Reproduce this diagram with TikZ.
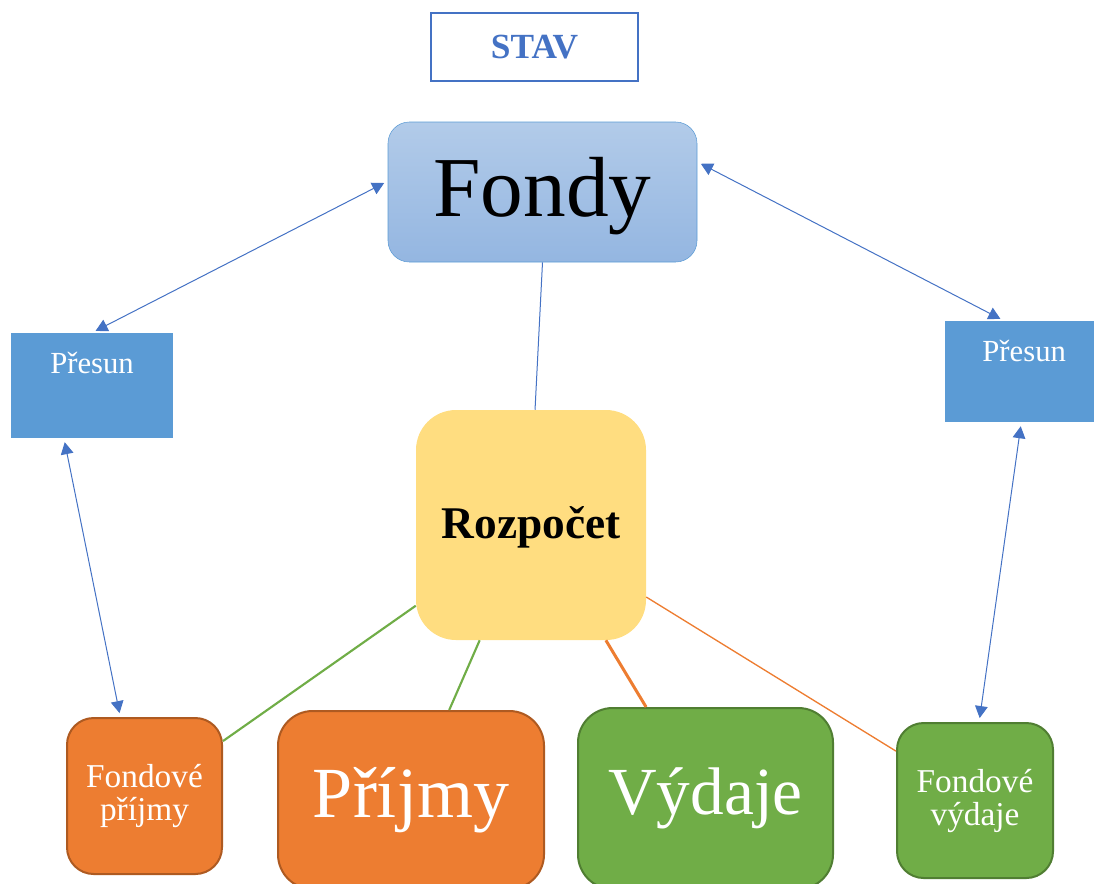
\documentclass[tikz,border=0pt]{standalone}
\usepackage{fontspec}
\setmainfont{Liberation Serif}
\usetikzlibrary{arrows.meta}
\definecolor{stavblue}{HTML}{4472C4}
\definecolor{presunblue}{HTML}{5B9BD5}
\definecolor{fondtop}{HTML}{B2CBE9}
\definecolor{fondbot}{HTML}{94B6E1}
\definecolor{rozpyellow}{HTML}{FFDD80}
\definecolor{orangefill}{HTML}{ED7D31}
\definecolor{orangeline}{HTML}{AE5A21}
\definecolor{greenfill}{HTML}{70AD47}
\definecolor{greenline}{HTML}{507E32}

\begin{document}
\begin{tikzpicture}[x=0.75pt,y=-0.75pt,>={Triangle[length=9pt,width=9.5pt]},
    title node/.style={rectangle,draw=stavblue,line width=1.5pt,text=stavblue,
      font=\fontsize{26.5}{26.5}\selectfont\bfseries,minimum width=155pt,minimum height=51pt},
    fond node/.style={rectangle,rounded corners=16pt,draw=presunblue,
      top color=fondtop,bottom color=fondbot,font=\fontsize{64}{64}\selectfont,
      minimum width=231.75pt,minimum height=105pt,text height=50pt,text depth=14pt},
    presun node/.style={rectangle,fill=presunblue,text=white,inner sep=0pt,
      font=\fontsize{23}{23}\selectfont,text height=16pt},
    rozpocet node/.style={rectangle,rounded corners=30pt,fill=rozpyellow,
      font=\fontsize{34}{34}\selectfont\bfseries,minimum size=172.5pt,
      text height=23pt,text depth=3pt},
    prijem node/.style={rectangle,fill=orangefill,draw=orangeline,line width=1.5pt,text=white},
    vydaj node/.style={rectangle,fill=greenfill,draw=greenline,line width=1.5pt,text=white},
    small text/.style={align=center,font=\fontsize{25}{24.75}\selectfont,rounded corners=20pt},
    big text/.style={rounded corners=26pt},
    link/.style={color=stavblue,line width=0.75pt},
    green link/.style={draw=greenfill,line width=1.6pt},
    orange link/.style={draw=orangefill,line width=1pt}]

  \useasboundingbox (0,0) rectangle (1094,883);

  \node[title node] (Stav) at (534.5,47) {STAV};
  \node[fond node] (Fondy) at (542.5,192) {Fondy};

  \node[presun node,minimum width=121.5pt,minimum height=78.75pt,text depth=34.75pt]
    (PresunL) at (92,385.5) {Přesun};
  \node[presun node,minimum width=111.75pt,minimum height=75.75pt,text depth=31.75pt,
    text width=111.75pt,align=center]
    (PresunR) at (1019.5,371.5) {\hspace*{7pt}Přesun};

  \node[rozpocet node] (Rozpocet) at (531,525) {Rozpočet};

  \node[prijem node,small text,minimum width=116.25pt,minimum height=117pt]
    (FPrijmy) at (144.5,796) {Fondové\\příjmy};
  \node[prijem node,big text,minimum width=199.5pt,minimum height=133.5pt,
    font=\fontsize{54}{54}\selectfont]
    (Prijmy) at (411,800) {Příjmy};
  \node[vydaj node,big text,minimum width=191.25pt,minimum height=135.75pt,
    font=\fontsize{50.5}{50.5}\selectfont]
    (Vydaje) at (705.5,798.5) {Výdaje};
  \node[vydaj node,small text,minimum width=117pt,minimum height=116.25pt]
    (FVydaje) at (975,800.5) {Fondové\\výdaje};

  % presuny mezi fondy a rozpoctem
  \path[link,<->,shorten <=3pt,shorten >=3pt]
    (Fondy.176) edge (PresunL.north)
    (Fondy.11) edge (PresunR.107)
    (PresunL.242) edge (FPrijmy.107)
    (PresunR.272) edge (FVydaje.87);

  \draw[link] (Fondy.south) -- (Rozpocet.88);
  \draw[green link] (Rozpocet.215) -- (FPrijmy.35);
  \draw[green link] (Rozpocet.246) -- (Prijmy.67);
  \draw[orange link,line width=2.25pt] (Rozpocet.303) -- (Vydaje.123);
  \draw[orange link] (Rozpocet.328) -- (FVydaje.148);
\end{tikzpicture}
\end{document}
